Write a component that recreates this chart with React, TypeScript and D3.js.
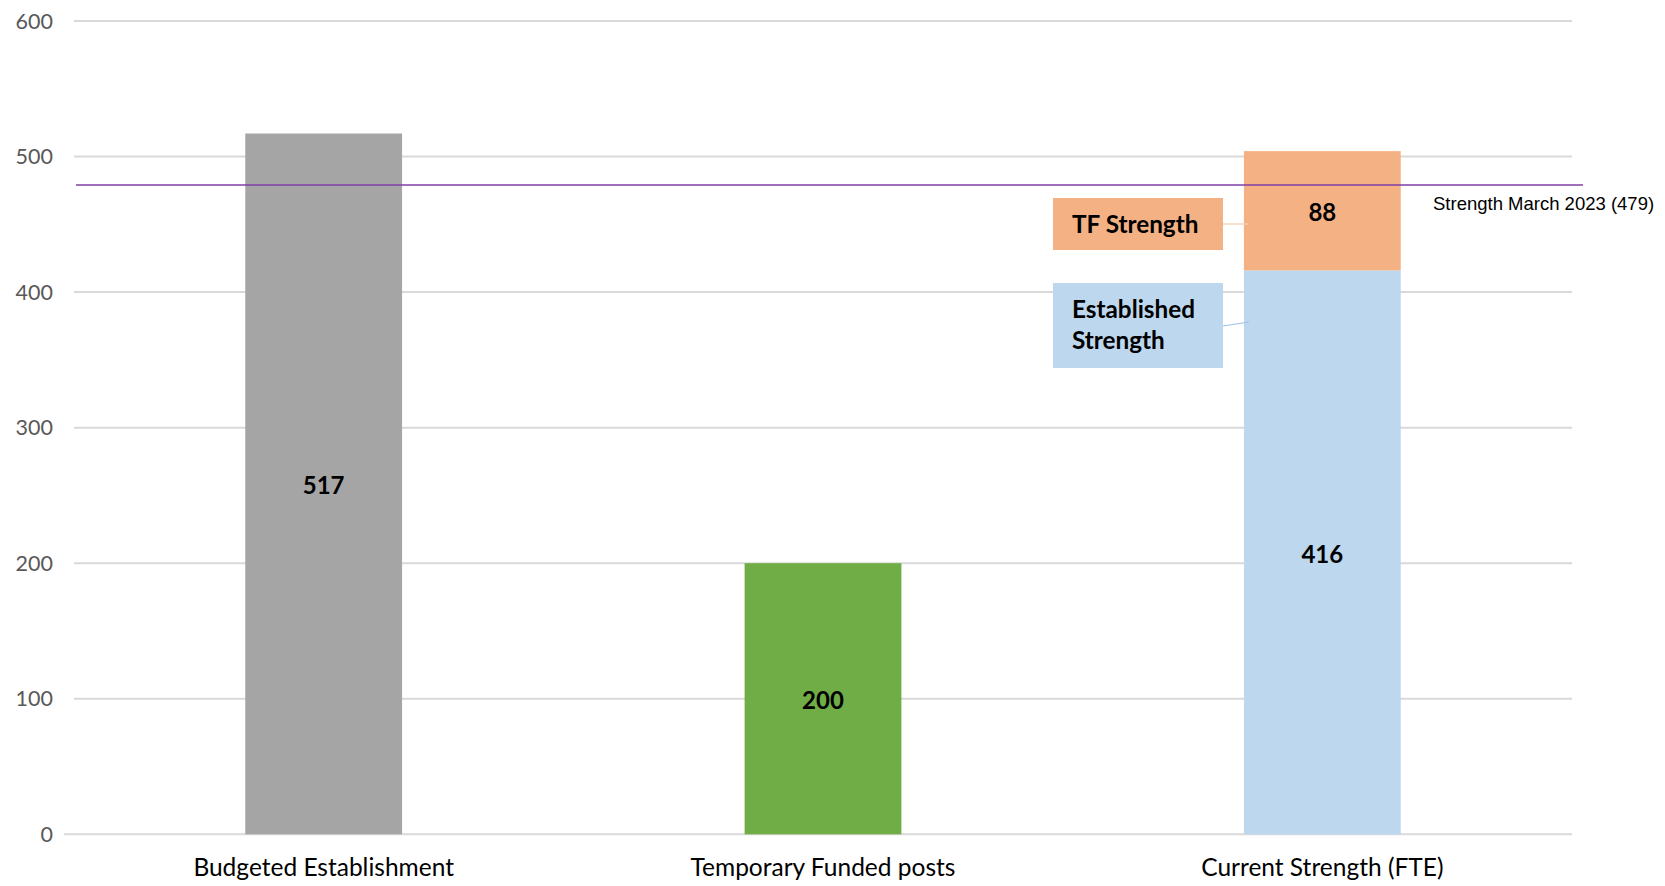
import React from "react";
import * as d3 from "d3";

// Workforce figures (FTE)
const categories = ["Budgeted Establishment", "Temporary Funded posts", "Current Strength (FTE)"];
const baseValues = [517, 200, 416];
const baseColors = ["#A5A5A5", "#70AD47", "#BDD7EE"];
const tfStrength = [0, 0, 88];
const yTicks = [0, 100, 200, 300, 400, 500, 600];
const marchStrength = 479;
const marchLabel = "Strength March 2023 (479)";

const W = 1665;
const H = 886;
const left = 74;
const right = 1572;
const top = 21;
const bottom = 834.3;

export default function App() {
  const x = d3
    .scaleBand<string>()
    .domain(categories)
    .range([left, right])
    .paddingInner(0.686)
    .paddingOuter(0.343);
  const y = d3.scaleLinear().domain([0, 600]).range([bottom, top]);
  const bw = x.bandwidth();
  const calibri = "Lato, 'Open Sans', sans-serif";

  const cur = categories[2];
  const curX = x(cur)!;

  const boxL = 1053;
  const boxR = 1223;

  return (
    <svg
      width={W}
      height={H}
      style={{ position: "absolute", left: 0, top: 0, background: "#fff" }}
    >
      {/* gridlines and y labels */}
      {yTicks.map((t) => (
        <g key={t}>
          <line
            x1={t === 0 ? 64 : left}
            x2={right}
            y1={y(t)}
            y2={y(t)}
            stroke="#D9D9D9"
            strokeWidth={2}
          />
          <text
            x={53}
            y={y(t)}
            dy="0.35em"
            textAnchor="end"
            fontFamily={calibri}
            fontSize={21.5}
            fill="#595959"
          >
            {t}
          </text>
        </g>
      ))}

      {/* base bars */}
      {categories.map((c, i) => (
        <rect
          key={c}
          x={x(c)}
          y={y(baseValues[i])}
          width={bw}
          height={y(0) - y(baseValues[i])}
          fill={baseColors[i]}
        />
      ))}

      {/* temporary funded strength stacked on top */}
      {categories.map((c, i) =>
        tfStrength[i] > 0 ? (
          <rect
            key={c + "-tf"}
            x={x(c)}
            y={y(baseValues[i] + tfStrength[i])}
            width={bw}
            height={y(baseValues[i]) - y(baseValues[i] + tfStrength[i])}
            fill="#F4B183"
          />
        ) : null
      )}

      {/* value labels */}
      {categories.map((c, i) => (
        <text
          key={c + "-v"}
          x={x(c)! + bw / 2}
          y={y(baseValues[i] / 2) + 2}
          dy="0.35em"
          textAnchor="middle"
          fontFamily={calibri}
          fontWeight="bold"
          fontSize={24}
          fill="#000"
        >
          {baseValues[i]}
        </text>
      ))}
      {categories.map((c, i) =>
        tfStrength[i] > 0 ? (
          <text
            key={c + "-tv"}
            x={x(c)! + bw / 2}
            y={y(baseValues[i] + tfStrength[i] / 2) + 2}
            dy="0.35em"
            textAnchor="middle"
            fontFamily={calibri}
            fontWeight="bold"
            fontSize={24}
            fill="#000"
          >
            {tfStrength[i]}
          </text>
        ) : null
      )}

      {/* March 2023 strength reference line */}
      <line
        x1={76}
        x2={1583}
        y1={y(marchStrength)}
        y2={y(marchStrength)}
        stroke="#7F3FA6"
        strokeWidth={1.4}
      />
      <text
        x={1433}
        y={210}
        fontFamily="'Liberation Sans', Arial, sans-serif"
        fontSize={18.5}
        fill="#000"
      >
        {marchLabel}
      </text>

      {/* series callouts */}
      <line x1={boxR} x2={curX + 5} y1={224} y2={224} stroke="#F8CBAD" strokeWidth={1.2} />
      <rect x={boxL} y={198} width={boxR - boxL} height={52} fill="#F4B183" />
      <text x={1072} y={233} fontFamily={calibri} fontWeight="bold" fontSize={24.3} fill="#000">
        TF Strength
      </text>

      <line x1={boxR} x2={curX + 5} y1={326} y2={322} stroke="#9DC3E6" strokeWidth={1.2} />
      <rect x={boxL} y={283} width={boxR - boxL} height={85} fill="#BDD7EE" />
      <text x={1072} y={318} fontFamily={calibri} fontWeight="bold" fontSize={24.3} fill="#000">
        Established
      </text>
      <text x={1072} y={349} fontFamily={calibri} fontWeight="bold" fontSize={24.3} fill="#000">
        Strength
      </text>

      {/* category labels */}
      {categories.map((c) => (
        <text
          key={c + "-c"}
          x={x(c)! + bw / 2}
          y={876}
          textAnchor="middle"
          fontFamily={calibri}
          fontSize={24.5}
          fill="#000"
        >
          {c}
        </text>
      ))}
    </svg>
  );
}
